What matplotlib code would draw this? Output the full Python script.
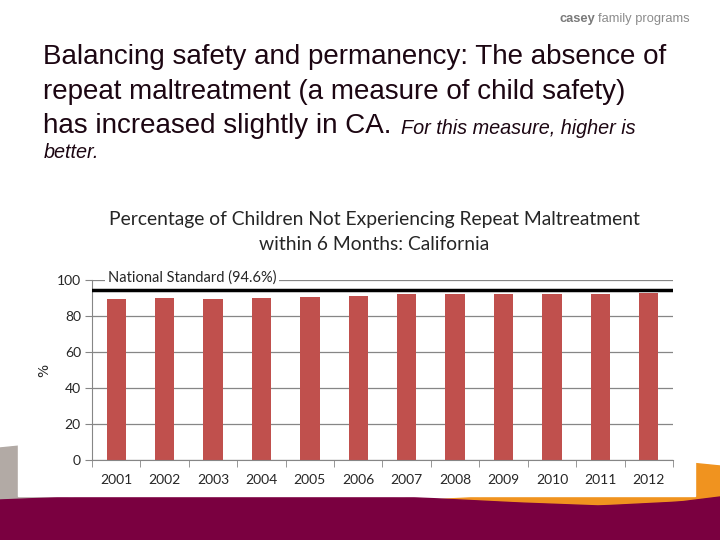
import numpy as np
import matplotlib.pyplot as plt
from matplotlib.patches import Polygon, Rectangle

years = ['2001', '2002', '2003', '2004', '2005', '2006',
         '2007', '2008', '2009', '2010', '2011', '2012']
pct = [89.6, 90.1, 89.7, 90.2, 90.8, 91.3, 92.4, 92.5, 92.5, 92.5, 92.5, 93.0]
national_std = 94.6

W, H = 720, 540
def px(x, y):  # pixel -> figure fraction
    return (x / W, 1 - y / H)

fig = plt.figure(figsize=(7.2, 5.4), dpi=100)

# slide decorations at the bottom
grey = Polygon([px(0, 448), px(60, 442), px(60, 508), px(0, 508)],
               closed=True, color='#b2aaa5', transform=fig.transFigure, zorder=0)
ox = np.linspace(380, 720, 40)
otop = np.interp(ox, [380, 500, 600, 690, 720], [503, 496, 484, 463, 466])
orange = Polygon([px(a, b) for a, b in zip(ox, otop)] + [px(720, 515), px(380, 515)],
                 closed=True, color='#f0931f', transform=fig.transFigure, zorder=0)
mx = np.linspace(0, 720, 60)
my = np.interp(mx, [0, 100, 400, 520, 600, 680, 720], [500, 496, 497, 503, 506, 502, 497])
maroon = Polygon([px(a, b) for a, b in zip(mx, my)] + [px(720, 540), px(0, 540)],
                 closed=True, color='#7a0040', transform=fig.transFigure, zorder=1)
box = Rectangle(px(18, 496), (695 - 18) / W, (496 - 190) / H, color='white',
                transform=fig.transFigure, zorder=2)
for p in (grey, orange, maroon, box):
    fig.add_artist(p)

# logo
fig.text(*px(560, 19), 'casey', fontsize=9.3, fontweight='bold', color='#7a7a7a',
         family='Liberation Sans', va='center')
fig.text(*px(598, 19), 'family programs', fontsize=9.3, color='#8c8c8c',
         family='Liberation Sans', va='center')

# slide heading
tc = '#1c0612'
fs = 20
fig.text(*px(43, 57), 'Balancing safety and permanency: The absence of', fontsize=fs,
         color=tc, family='Liberation Sans', va='center')
fig.text(*px(43, 92), 'repeat maltreatment (a measure of child safety)', fontsize=fs,
         color=tc, family='Liberation Sans', va='center')
l3 = fig.text(*px(43, 126), 'has increased slightly in CA.', fontsize=fs,
              color=tc, family='Liberation Sans', va='center')
fig.canvas.draw()
end = l3.get_window_extent().x1
fig.text(*px(end + 10, 128), 'For this measure, higher is', fontsize=14.3, style='italic',
         color=tc, family='Liberation Sans', va='center')
fig.text(*px(44, 153), 'better.', fontsize=14.3, style='italic',
         color=tc, family='Liberation Sans', va='center')

# chart
ax = fig.add_axes([92 / W, 1 - 460 / H, (673 - 92) / W, 180 / H], zorder=3)
ax.set_facecolor('none')
x = np.arange(len(years))
ax.bar(x, pct, width=0.4, color='#c0504d', zorder=2)
ax.axhline(national_std, color='black', lw=2.5, zorder=3)
ax.text(-0.17, 101.6, 'National Standard (94.6%)', fontsize=10.5, family='Lato',
        color='#262626', va='center', zorder=4, clip_on=False,
        bbox=dict(facecolor='white', edgecolor='none', pad=2))

ax.set_xlim(-0.5, len(years) - 0.5)
ax.set_ylim(0, 100)
ax.set_yticks([0, 20, 40, 60, 80, 100])
ax.set_xticks(x)
ax.set_xticklabels(years)
ax.set_xticks(np.arange(-0.5, len(years)), minor=True)
ax.tick_params(axis='x', which='major', length=0, pad=10, labelsize=10, labelcolor='#262626')
ax.tick_params(axis='x', which='minor', length=5, color='#868686', direction='out')
ax.tick_params(axis='y', length=5, color='#868686', pad=3, labelsize=10, labelcolor='#262626')
for lab in ax.get_xticklabels() + ax.get_yticklabels():
    lab.set_family('Lato')
ax.grid(axis='y', color='#868686', lw=0.9, zorder=1)
for s in ('top', 'right'):
    ax.spines[s].set_visible(False)
for s in ('left', 'bottom'):
    ax.spines[s].set_color('#868686')
ax.set_ylabel('%', fontsize=10, color='#262626', labelpad=4)

fig.text(*px(374, 219), 'Percentage of Children Not Experiencing Repeat Maltreatment',
         fontsize=13.9, family='Lato', color='#262626', ha='center', va='center', zorder=4)
fig.text(*px(374, 245), 'within 6 Months: California',
         fontsize=13.9, family='Lato', color='#262626', ha='center', va='center', zorder=4)

fig.savefig('out.png', dpi=100)
